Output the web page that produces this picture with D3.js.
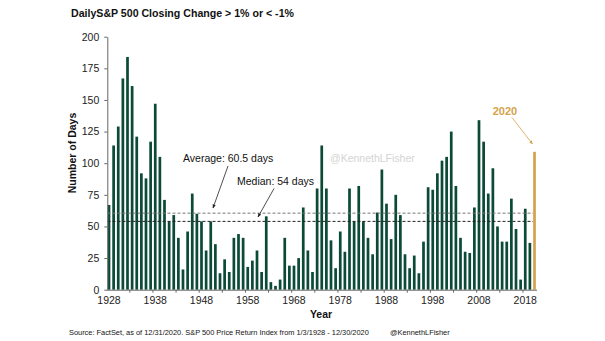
<!DOCTYPE html>
<html>
<head>
<meta charset="utf-8">
<script src="https://cdn.jsdelivr.net/npm/d3@7"></script>
<style>
  html, body { margin: 0; padding: 0; background: #fff; }
  svg { display: block; font-family: "Liberation Sans", Arial, sans-serif; }
</style>
</head>
<body>
<svg id="chart" width="605" height="341"></svg>
<script>
const years = d3.range(1928, 2021);
const days = [
  67, 114, 129, 167, 184, 161, 121, 92, 88, 117,
  147, 105, 71, 54, 59, 41, 16, 46, 76, 60,
  54, 31, 54, 36, 13, 24, 14, 41, 44, 41,
  18, 23, 31, 14, 58, 6, 3, 8, 41, 19,
  19, 25, 65, 31, 14, 80, 114, 80, 39, 17,
  46, 30, 80, 54, 82, 54, 41, 28, 61, 95,
  68, 40, 75, 59, 28, 17, 27, 13, 38, 81,
  79, 92, 102, 105, 125, 82, 41, 30, 29, 65,
  134, 117, 76, 96, 50, 38, 38, 72, 48, 8,
  64, 37, 109
];
const yTicks = [0, 25, 50, 75, 100, 125, 150, 175, 200];
const labelYears = [1928, 1938, 1948, 1958, 1968, 1978, 1988, 1998, 2008, 2018];
const tickYears = d3.range(1928, 2021, 5);
const averageValue = 60.5;
const medianValue = 54;
const highlightYear = 2020;

const svg = d3.select("#chart");
const green = "#0b4a37";
const gold = "#d4a24c";

const x = d3.scaleBand().domain(years).range([107.65, 535.85]).paddingInner(0.416).paddingOuter(0);
const y = d3.scaleLinear().domain([0, 200]).range([289.7, 36.7]);

// bars
svg.append("g").selectAll("rect").data(years).join("rect")
  .attr("x", d => x(d))
  .attr("width", x.bandwidth())
  .attr("y", (d, i) => y(days[i]))
  .attr("height", (d, i) => y(0) - y(days[i]))
  .attr("fill", d => d === highlightYear ? gold : green);

// reference lines
const x0 = 107.5, x1 = 533;
svg.append("line").attr("x1", x0).attr("x2", x1)
  .attr("y1", y(averageValue)).attr("y2", y(averageValue))
  .attr("stroke", "#777").attr("stroke-width", 1).attr("stroke-dasharray", "3,2");
svg.append("line").attr("x1", x0).attr("x2", x1)
  .attr("y1", y(medianValue)).attr("y2", y(medianValue))
  .attr("stroke", "#222").attr("stroke-width", 1).attr("stroke-dasharray", "3,2");

// y axis
const yAxis = svg.append("g").attr("transform", "translate(107.3,0)")
  .call(d3.axisLeft(y).tickValues(yTicks).tickSize(3).tickPadding(5).tickSizeOuter(0));
yAxis.select(".domain").attr("stroke", "#666");
yAxis.selectAll(".tick line").attr("stroke", "#666");
yAxis.selectAll("text").attr("font-size", "10.5px").attr("fill", "#222");

// x axis
const xAxis = svg.append("g").attr("transform", `translate(0,${y(0)})`)
  .call(d3.axisBottom(x).tickValues(labelYears).tickSize(0).tickPadding(7).tickSizeOuter(0));
xAxis.select(".domain").attr("d", "M107.3,0.5H537");
xAxis.select(".domain").attr("stroke", "#666");
xAxis.selectAll("text").attr("font-size", "10.5px").attr("fill", "#222");
const gapHalf = (x.step() - x.bandwidth()) / 2;
xAxis.selectAll(".btick").data(tickYears.slice(1)).join("line")
  .attr("class", "btick")
  .attr("x1", d => x(d) - gapHalf).attr("x2", d => x(d) - gapHalf)
  .attr("y1", 0).attr("y2", 3).attr("stroke", "#666");

// titles
svg.append("text").attr("x", 71).attr("y", 16.5)
  .attr("font-size", "10.6px").attr("font-weight", "bold").attr("fill", "#111")
  .text("DailyS&P 500 Closing Change > 1% or < -1%");
svg.append("text").attr("transform", "translate(75.5,153) rotate(-90)")
  .attr("text-anchor", "middle").attr("font-size", "10.5px").attr("font-weight", "bold").attr("fill", "#111")
  .text("Number of Days");
svg.append("text").attr("x", 321).attr("y", 318)
  .attr("text-anchor", "middle").attr("font-size", "10.5px").attr("font-weight", "bold").attr("fill", "#111")
  .text("Year");

// watermark
svg.append("text").attr("x", 330).attr("y", 161.5)
  .attr("font-size", "10.5px").attr("fill", "#d4d4d4")
  .text("@KennethLFisher");

// annotations
const defs = svg.append("defs");
function marker(id, color) {
  defs.append("marker").attr("id", id).attr("viewBox", "0 0 10 10")
    .attr("refX", 9).attr("refY", 5).attr("markerWidth", 5).attr("markerHeight", 5)
    .attr("orient", "auto")
    .append("path").attr("d", "M0,1L10,5L0,9Z").attr("fill", color);
}
marker("arrBlack", "#222");
marker("arrGold", gold);

svg.append("text").attr("x", 183).attr("y", 162)
  .attr("font-size", "10.5px").attr("fill", "#111").text("Average: 60.5 days");
svg.append("line").attr("x1", 228).attr("y1", 166).attr("x2", 213).attr("y2", 208)
  .attr("stroke", "#222").attr("stroke-width", 0.8).attr("marker-end", "url(#arrBlack)");

svg.append("text").attr("x", 237).attr("y", 184.5)
  .attr("font-size", "10.5px").attr("fill", "#111").text("Median: 54 days");
svg.append("line").attr("x1", 274).attr("y1", 188.5).attr("x2", 258).attr("y2", 217)
  .attr("stroke", "#222").attr("stroke-width", 0.8).attr("marker-end", "url(#arrBlack)");

svg.append("text").attr("x", 505).attr("y", 114.5).attr("text-anchor", "middle")
  .attr("font-size", "11px").attr("font-weight", "bold").attr("fill", gold).text("2020");
svg.append("line").attr("x1", 512).attr("y1", 117.5).attr("x2", 532.5).attr("y2", 144)
  .attr("stroke", gold).attr("stroke-width", 0.8).attr("marker-end", "url(#arrGold)");

// source
svg.append("text").attr("x", 69).attr("y", 334.5)
  .attr("font-size", "7.4px").attr("fill", "#111")
  .text("Source: FactSet, as of 12/31/2020. S&P 500 Price Return Index from 1/3/1928 - 12/30/2020");
svg.append("text").attr("x", 390).attr("y", 334.5)
  .attr("font-size", "7.4px").attr("fill", "#111")
  .text("@KennethLFisher");
</script>
</body>
</html>
